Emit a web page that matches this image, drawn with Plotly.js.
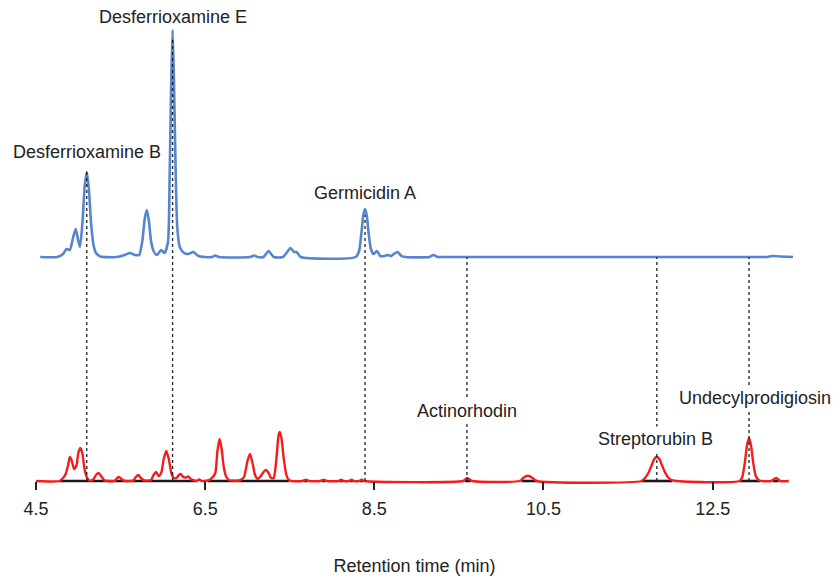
<!DOCTYPE html>
<html>
<head>
<meta charset="utf-8">
<script src="https://cdn.plot.ly/plotly-3.0.1.min.js"></script>
<style>html,body{margin:0;padding:0;background:#fff;}#chart{width:837px;height:576px;}</style>
</head>
<body>
<div id="chart"></div>
<script>
// Upper (blue) chromatogram: retention time (min) and signal above its baseline
const blueTime = [4.55,4.75,4.82,4.86,4.90,4.94,4.97,5.00,5.02,5.05,5.075,5.10,5.125,5.15,5.18,5.21,5.26,5.45,5.55,5.61,5.67,5.72,5.76,5.785,5.81,5.835,5.86,5.89,5.93,5.98,6.02,6.06,6.08,6.10,6.115,6.13,6.15,6.17,6.20,6.25,6.30,6.36,6.42,6.50,6.58,6.62,6.66,7.03,7.08,7.12,7.19,7.25,7.31,7.42,7.47,7.51,7.55,7.58,7.63,8.28,8.32,8.345,8.37,8.39,8.41,8.435,8.46,8.49,8.53,8.57,8.62,8.66,8.70,8.73,8.775,8.82,8.87,9.15,9.20,9.25,9.32,13.08,13.15,13.20,13.30,13.45];
const blueSignal = [0,0,3,8,7,20,28,16,10,35,70,85,68,35,12,4,0.5,0,2,4,2,2,18,38,47,36,16,6,2,7,4,15,80,180,227,180,90,30,10,4,3,5,1,0,0,1.5,0,0,1.5,0,0,6,0,0,5,9,5,5,0,0,6,22,42,48,42,22,8,3,6,1,1,2,1,3,5,1,0,0,2,0,0,0,0,1,0.5,0];

// Lower (red) chromatogram
const redTime = [4.50,4.78,4.82,4.85,4.88,4.90,4.92,4.95,4.98,5.00,5.025,5.05,5.07,5.10,5.13,5.17,5.21,5.24,5.27,5.31,5.43,5.46,5.48,5.51,5.55,5.65,5.68,5.71,5.74,5.78,5.86,5.89,5.92,5.95,5.98,6.01,6.04,6.07,6.10,6.13,6.16,6.19,6.21,6.24,6.27,6.30,6.33,6.37,6.40,6.43,6.46,6.55,6.59,6.62,6.645,6.67,6.695,6.72,6.75,6.79,6.90,6.93,6.96,7.00,7.03,7.06,7.09,7.12,7.15,7.19,7.22,7.25,7.28,7.31,7.34,7.365,7.38,7.40,7.43,7.46,7.49,7.52,7.65,7.69,7.73,7.86,7.90,7.94,8.08,8.11,8.14,8.20,8.23,8.26,8.32,8.35,8.38,9.55,9.58,9.60,9.62,9.66,10.22,10.26,10.30,10.33,10.37,10.42,11.66,11.70,11.74,11.78,11.81,11.84,11.87,11.90,11.94,11.98,12.03,12.82,12.85,12.88,12.905,12.93,12.955,12.98,13.01,13.05,13.19,13.25,13.30,13.40];
const redSignal = [0,0,3,7,16,24,21,12,16,28,33,27,14,4,0.5,1,6,8,5,0.5,0,3,4,2,0,0.5,4,6,3,0.5,1,6,9,5,8,22,30,22,8,3,3,6,7,4,3.5,4.5,2,0.5,0,1.5,0,1,4,8,30,42,32,14,4,0.5,0.5,1.5,4,20,27,18,6,2,4,9,11,8,3,3,20,44,49,44,22,6,1,0,0,1.2,0,0,1.2,0,0,1.2,0,0,1.2,0,0,1.2,0,0,2,3,2,0,0,3,5,5,3,0,0,3,8,16,22,24,22,16,8,3,0.5,0,4,18,35,43,35,18,5,0.5,0,3,0,0];

// Integration baselines under the lower trace (start / end, min)
const baseStart = [4.78,6.53,7.67,7.88,8.09,8.21,8.33,9.57,10.24,11.66,12.82,13.21];
const baseEnd   = [6.39,7.49,7.71,7.92,8.13,8.25,8.37,9.64,10.42,12.02,13.06,13.28];

// Identified compounds: name, retention time, height of the upper peak (0 = baseline)
const compoundNames = ["Desferrioxamine B","Desferrioxamine E","Germicidin A","Actinorhodin","Streptorubin B","Undecylprodigiosin"];
const compoundTimes = [5.10,6.115,8.39,9.595,11.84,12.93];
const compoundTop   = [85,217,42,0,0,0];

const tickValues = [4.5,6.5,8.5,10.5,12.5];
const tickLabels = ["4.5","6.5","8.5","10.5","12.5"];

const blueOffset = 224;
const FONT = "Liberation Sans, Arial, Helvetica, sans-serif";

const bx = [], by = [];
baseStart.forEach((s,i)=>{ bx.push(s, baseEnd[i], null); by.push(0,0,null); });

const traces = [
  {x: blueTime, y: blueSignal.map(v=>v+blueOffset), mode:'lines', line:{color:'#5585cc', width:2.6, shape:'spline', smoothing:0.6}, hoverinfo:'skip'},
  {x: bx, y: by, mode:'lines', line:{color:'#1a1a1a', width:2.6}, hoverinfo:'skip', connectgaps:false},
  {x: redTime, y: redSignal, mode:'lines', line:{color:'#f41c1c', width:2.4, shape:'spline', smoothing:0.6}, hoverinfo:'skip'}
];

const shapes = compoundTimes.map((t,i)=>({
  type:'line', xref:'x', yref:'y', x0:t, x1:t, y0:0, y1: blueOffset + compoundTop[i],
  line:{color:'#222', width:1.3, dash:'dot'}, layer:'above'
}));

const labelPos = [
  {y:329, xshift:0, bg:false},
  {y:464, xshift:0, bg:false},
  {y:288, xshift:0, bg:false},
  {y:70,  xshift:0, bg:true},
  {y:42,  xshift:-1, bg:true},
  {y:83,  xshift:6, bg:true}
];
const annotations = compoundNames.map((n,i)=>({
  x: compoundTimes[i], y: labelPos[i].y, xref:'x', yref:'y', text:n, showarrow:false,
  xshift: labelPos[i].xshift, font:{family:FONT, size:18, color:'#222'},
  bgcolor: labelPos[i].bg ? '#ffffff' : 'rgba(0,0,0,0)', borderpad:2
}));

const layout = {
  width:837, height:576,
  margin:{l:36, r:44, t:10, b:92},
  paper_bgcolor:'#fff', plot_bgcolor:'#fff',
  showlegend:false,
  xaxis:{
    range:[4.5,13.45], anchor:'free', position:3/474,
    showgrid:false, zeroline:false, showline:false,
    ticks:'outside', ticklen:8, tickwidth:2, tickcolor:'#222',
    tickvals:tickValues, ticktext:tickLabels, ticklabelstandoff:3,
    tickfont:{family:FONT, size:18, color:'#222'},
    title:{text:'Retention time (min)', font:{family:FONT, size:18, color:'#222'}, standoff:42},
    fixedrange:true
  },
  yaxis:{range:[-3,471], visible:false, fixedrange:true},
  shapes: shapes,
  annotations: annotations
};

Plotly.newPlot('chart', traces, layout, {staticPlot:true, displayModeBar:false});
</script>
</body>
</html>
